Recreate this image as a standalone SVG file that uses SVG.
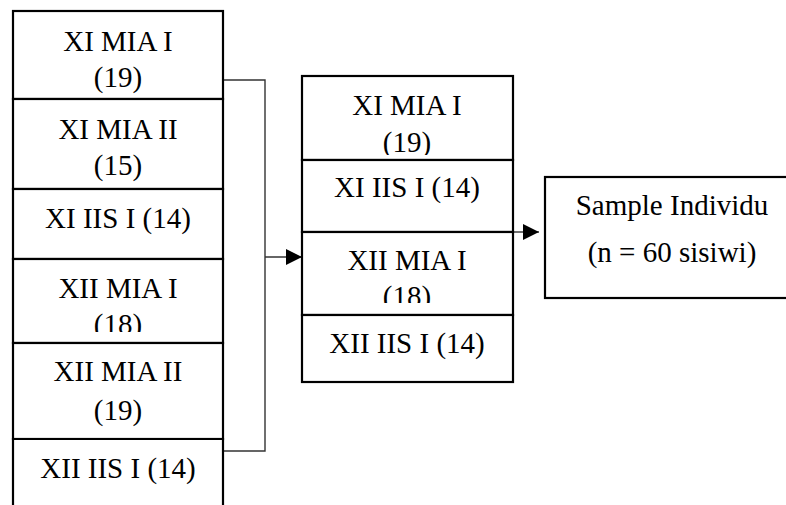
<svg xmlns="http://www.w3.org/2000/svg" width="786" height="505" viewBox="0 0 786 505">
<style>
.box{fill:#fff;stroke:#000;stroke-width:2.2}
.t{font-family:"Liberation Serif","Times New Roman",serif;font-size:29px;fill:#000;text-anchor:middle}
.con{fill:none;stroke:#333;stroke-width:1.4}
</style>
<defs>
<marker id="arr" viewBox="0 0 10 10" refX="10" refY="5" markerWidth="16" markerHeight="16" markerUnits="userSpaceOnUse" orient="auto">
<path d="M0,0 L10,5 L0,10 z" fill="#000"/>
</marker>
<clipPath id="c1"><rect x="0" y="0" width="786" height="332"/></clipPath>
<clipPath id="c2"><rect x="0" y="0" width="786" height="155"/></clipPath>
<clipPath id="c3"><rect x="0" y="0" width="786" height="303"/></clipPath>
</defs>
<rect width="786" height="505" fill="#fff"/>
<g id="connectors">
<path class="con" d="M223,80 H265 V451 H223"/>
<line class="con" x1="265" y1="257" x2="302" y2="257" marker-end="url(#arr)"/>
<line class="con" x1="513" y1="232" x2="539" y2="232" stroke="#000" marker-end="url(#arr)"/>
</g>
<g id="left-col">
<g id="n-xi-mia-1"><rect class="box" x="13" y="11" width="210" height="88"/><text class="t" x="118" y="51">XI MIA I</text><text class="t" x="118" y="87">(19)</text></g>
<g id="n-xi-mia-2"><rect class="box" x="13" y="99" width="210" height="90"/><text class="t" x="118" y="139">XI MIA II</text><text class="t" x="118" y="175">(15)</text></g>
<g id="n-xi-iis-1"><rect class="box" x="13" y="189" width="210" height="70"/><text class="t" x="118" y="228">XI IIS I (14)</text></g>
<g id="n-xii-mia-1"><rect class="box" x="13" y="259" width="210" height="84"/><text class="t" x="118" y="298">XII MIA I</text><text class="t" x="118" y="334" clip-path="url(#c1)">(18)</text></g>
<g id="n-xii-mia-2"><rect class="box" x="13" y="343" width="210" height="96"/><text class="t" x="118" y="381">XII MIA II</text><text class="t" x="118" y="420">(19)</text></g>
<g id="n-xii-iis-1"><path class="box" d="M13,507 V439 H223 V507"/><text class="t" x="118" y="478">XII IIS I (14)</text></g>
</g>
<g id="mid-col">
<g id="m-xi-mia-1"><rect class="box" x="302" y="76" width="211" height="84"/><text class="t" x="407" y="115">XI MIA I</text><text class="t" x="407" y="152" clip-path="url(#c2)">(19)</text></g>
<g id="m-xi-iis-1"><rect class="box" x="302" y="160" width="211" height="72"/><text class="t" x="407" y="197">XI IIS I (14)</text></g>
<g id="m-xii-mia-1"><rect class="box" x="302" y="232" width="211" height="83"/><text class="t" x="407" y="270">XII MIA I</text><text class="t" x="407" y="306" clip-path="url(#c3)">(18)</text></g>
<g id="m-xii-iis-1"><rect class="box" x="302" y="315" width="211" height="67"/><text class="t" x="407" y="353">XII IIS I (14)</text></g>
</g>
<g id="sample"><rect class="box" x="545" y="177" width="255" height="121"/><text class="t" x="672" y="215">Sample Individu</text><text class="t" x="672" y="262">(n = 60 sisiwi)</text></g>
</svg>
